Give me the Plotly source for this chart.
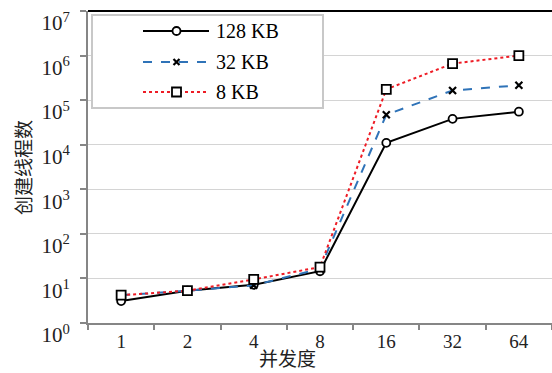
import plotly.graph_objects as go

categories = ["1", "2", "4", "8", "16", "32", "64"]
series_names = ["128 KB", "32 KB", "8 KB"]
vals_128kb = [3.1, 5.3, 7.2, 14.5, 11000, 38000, 55000]
vals_32kb = [4.2, 5.3, 7.0, 16.5, 47000, 165000, 215000]
vals_8kb = [4.2, 5.3, 9.5, 18.0, 175000, 660000, 1000000]
y_tickvals = [1, 10, 100, 1000, 10000, 100000, 1000000, 10000000]
y_ticktext = ["10<sup>%d</sup>" % i for i in range(8)]

serif = "Liberation Serif"
cjk = "Noto Sans CJK SC"

styles = [
    dict(color="black", dash="solid", symbol="circle", msize=8),
    dict(color="#2f73b8", dash="dash", symbol="x-thin", msize=7),
    dict(color="#ee1c25", dash="dot", symbol="square", msize=9),
]
data = [vals_128kb, vals_32kb, vals_8kb]

fig = go.Figure()
for name, vals, st in zip(series_names, data, styles):
    if st["symbol"] == "x-thin":
        marker = dict(symbol="x-thin", size=st["msize"], color="black",
                      line=dict(color="black", width=2.2))
    else:
        marker = dict(symbol=st["symbol"], size=st["msize"], color="white",
                      line=dict(color="black", width=1.8))
    fig.add_trace(go.Scatter(
        x=categories, y=vals, name=name, mode="lines+markers",
        line=dict(color=st["color"], dash=st["dash"], width=2),
        marker=marker, showlegend=False,
    ))

L, R, T, B = 88, 0, 11, 50
W, H = 552, 373
PW, PH = W - L - R, H - T - B


def px(x):
    return (x - L) / PW


def py(y):
    return (H - B - y) / PH


shapes = []
# top black border
shapes.append(dict(type="line", xref="paper", yref="paper", x0=0, x1=1, y0=1, y1=1,
                   line=dict(color="black", width=2)))
# legend box
shapes.append(dict(type="rect", xref="paper", yref="paper",
                   x0=px(92), x1=px(323), y0=py(108), y1=py(15),
                   line=dict(color="#c8c8c8", width=2), fillcolor="white", layer="above"))
rows = [31, 62, 92]
lx0, lx1, mx, tx = 143, 209, 176.5, 214
annotations = []
for name, st, ry in zip(series_names, styles, rows):
    shapes.append(dict(type="line", xref="paper", yref="paper",
                       x0=px(lx0), x1=px(lx1), y0=py(ry), y1=py(ry), layer="above",
                       line=dict(color=st["color"], dash=st["dash"], width=2)))
    h = st["msize"] / 2
    common = dict(xref="paper", yref="paper", xsizemode="pixel", ysizemode="pixel",
                  xanchor=px(mx), yanchor=py(ry), layer="above")
    if st["symbol"] == "circle":
        shapes.append(dict(type="circle", x0=-h, x1=h, y0=-h, y1=h,
                           line=dict(color="black", width=1.8), fillcolor="white", **common))
    elif st["symbol"] == "square":
        shapes.append(dict(type="rect", x0=-h, x1=h, y0=-h, y1=h,
                           line=dict(color="black", width=1.8), fillcolor="white", **common))
    else:
        shapes.append(dict(type="path", path="M-3,-3L3,3M-3,3L3,-3",
                           line=dict(color="black", width=2.2), **common))
    annotations.append(dict(xref="paper", yref="paper", x=px(tx), y=py(ry),
                            xanchor="left", yanchor="middle", text=name, showarrow=False,
                            font=dict(family=serif, size=20, color="black")))

annotations.append(dict(xref="paper", yref="paper", x=px(22), y=py(168),
                        text="创建线程数", textangle=-90, showarrow=False,
                        font=dict(family=cjk, size=19, color="#222"),
                        xanchor="center", yanchor="middle"))
annotations.append(dict(xref="paper", yref="paper", x=px(287), y=py(357),
                        text="并发度", showarrow=False,
                        font=dict(family=cjk, size=19, color="#222"),
                        xanchor="center", yanchor="middle"))

fig.update_layout(
    width=W, height=H,
    margin=dict(l=L, r=R, t=T, b=B, autoexpand=False),
    paper_bgcolor="white", plot_bgcolor="white",
    shapes=shapes, annotations=annotations,
    showlegend=False,
    font=dict(family=serif),
)
fig.update_xaxes(
    type="category", range=[-0.5, 6.5], automargin=False,
    showline=True, linecolor="#868686", linewidth=2,
    ticks="outside", tickson="boundaries", ticklen=5, tickcolor="#868686", tickwidth=2,
    showgrid=False, zeroline=False,
    tickfont=dict(family=serif, size=19, color="#222"),
)
fig.update_yaxes(
    type="log", range=[0, 7], automargin=False,
    tickvals=y_tickvals, ticktext=y_ticktext,
    showline=True, linecolor="#868686", linewidth=2,
    ticks="outside", ticklen=6, tickcolor="#868686", tickwidth=2,
    showgrid=True, gridcolor="#d4d4d4", gridwidth=1,
    zeroline=False,
    tickfont=dict(family=serif, size=21, color="#222"),
    ticklabelstandoff=6, ticklabelshift=12, ticklabeloverflow="allow",
)

fig.write_html("out.html")
